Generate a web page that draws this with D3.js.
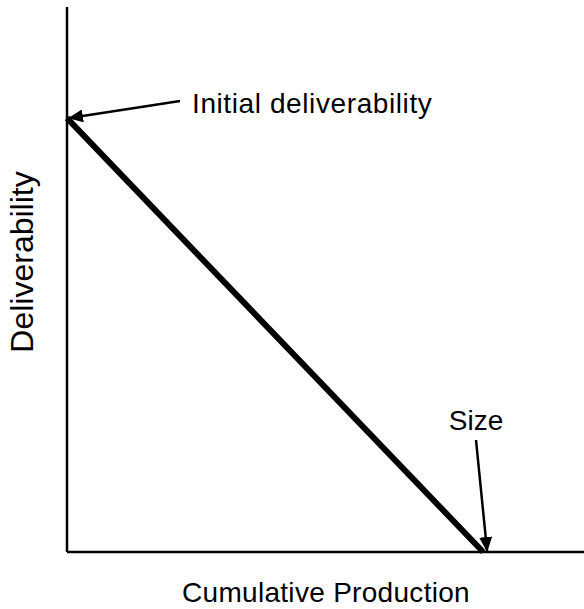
<!DOCTYPE html>
<html lang="en">
<head>
<meta charset="UTF-8">
<script src="https://d3js.org/d3.v7.min.js"></script>
<style>
  body { margin: 0; background: #fff; }
  text { font-family: "Liberation Sans", Arial, sans-serif; fill: #000; }
</style>
</head>
<body>
<svg id="chart" width="584" height="609"></svg>
<script>
// decline line: cumulative production vs deliverability
const production = [0, 0.805];
const deliverability = [0.796, 0];
const labels = ["Initial deliverability", "Size"];

const svg = d3.select("#chart");
const x = d3.scaleLinear().domain([0, 1]).range([67, 584]);
const y = d3.scaleLinear().domain([0, 1]).range([552, 7]);

svg.append("defs").append("marker")
    .attr("id", "head")
    .attr("viewBox", "0 0 10 10")
    .attr("refX", 10).attr("refY", 5)
    .attr("markerWidth", 15).attr("markerHeight", 13)
    .attr("markerUnits", "userSpaceOnUse")
    .attr("orient", "auto")
    .attr("preserveAspectRatio", "none")
    .append("path").attr("d", "M0,0 L10,5 L0,10 z").attr("fill", "#000");

// axes (plain lines, no ticks)
svg.append("line")
    .attr("x1", x(0)).attr("x2", x(0))
    .attr("y1", y(1)).attr("y2", y(0))
    .attr("stroke", "#000").attr("stroke-width", 2.5);
svg.append("line")
    .attr("x1", x(0)).attr("x2", x(1))
    .attr("y1", y(0)).attr("y2", y(0))
    .attr("stroke", "#000").attr("stroke-width", 2.5);

// thick decline line
const pts = production.map((p, i) => [x(p), y(deliverability[i])]);
svg.append("path")
    .attr("d", d3.line()(pts))
    .attr("stroke", "#000").attr("stroke-width", 6)
    .attr("fill", "none");

// annotation arrows
svg.append("line")
    .attr("x1", 180).attr("y1", 101)
    .attr("x2", x(production[0]) + 1).attr("y2", y(deliverability[0]))
    .attr("stroke", "#000").attr("stroke-width", 2.5)
    .attr("marker-end", "url(#head)");
svg.append("text")
    .attr("x", 192).attr("y", 113)
    .attr("font-size", 28)
    .attr("letter-spacing", 0.6)
    .text(labels[0]);

svg.append("line")
    .attr("x1", 476).attr("y1", 440)
    .attr("x2", x(production[1]) + 4).attr("y2", y(0))
    .attr("stroke", "#000").attr("stroke-width", 2.5)
    .attr("marker-end", "url(#head)");
svg.append("text")
    .attr("x", 476).attr("y", 430)
    .attr("text-anchor", "middle")
    .attr("font-size", 28)
    .text(labels[1]);

// axis titles
svg.append("text")
    .attr("x", 326).attr("y", 602)
    .attr("text-anchor", "middle")
    .attr("font-size", 28)
    .attr("letter-spacing", 0.3)
    .text("Cumulative Production");
svg.append("text")
    .attr("transform", "translate(33,262) rotate(-90)")
    .attr("text-anchor", "middle")
    .attr("font-size", 32)
    .text("Deliverability");
</script>
</body>
</html>
